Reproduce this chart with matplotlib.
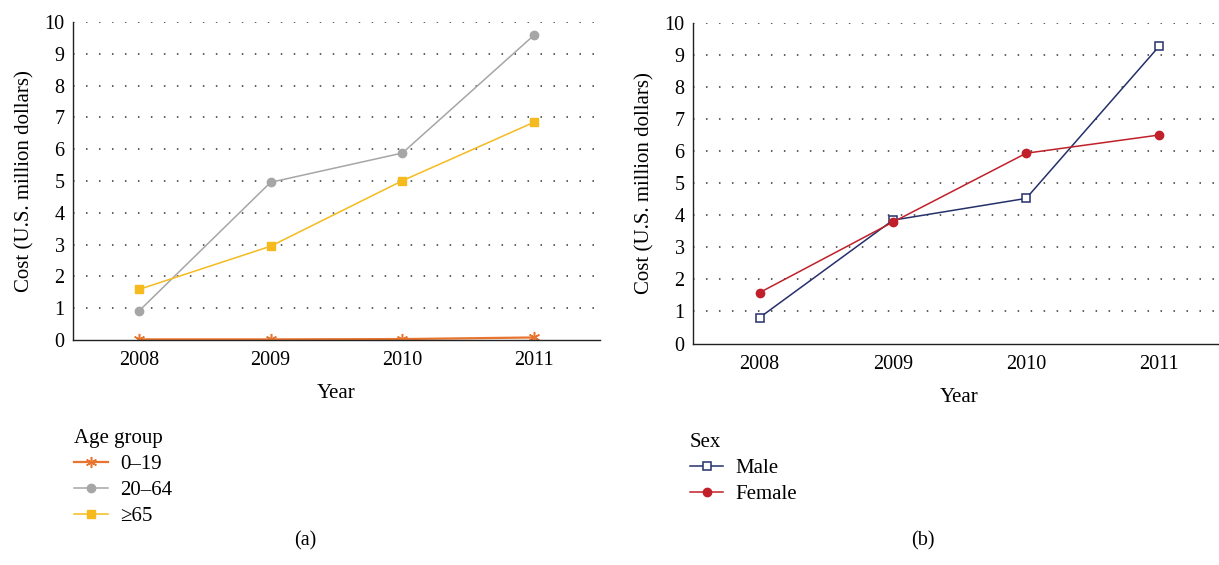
import matplotlib
matplotlib.use("Agg")
import matplotlib.pyplot as plt

# Annual cost data, 2008-2011 (U.S. million dollars)
years = [2008, 2009, 2010, 2011]

age_labels = ["0\u201319", "20\u201364", "\u226565"]
age_0_19 = [0.02, 0.02, 0.03, 0.08]
age_20_64 = [0.91, 4.96, 5.88, 9.59]
age_65_plus = [1.59, 2.95, 5.01, 6.85]

sex_labels = ["Male", "Female"]
male = [0.81, 3.85, 4.53, 9.29]
female = [1.59, 3.79, 5.94, 6.51]

y_ticks = list(range(0, 11))

plt.rcParams["font.family"] = ["Liberation Serif", "DejaVu Serif"]
plt.rcParams["font.size"] = 14.5

fig = plt.figure(figsize=(12.19, 5.65), dpi=100)

ax_a = fig.add_axes([0.0599, 0.3982, 0.4323, 0.5628])
ax_b = fig.add_axes([0.5685, 0.392, 0.4373, 0.567])


def style_axes(ax):
    ax.set_xlim(2007.5, 2011.5)
    ax.set_ylim(0, 10)
    ax.set_xticks(years)
    ax.set_xticklabels([str(y) for y in years])
    ax.set_yticks(y_ticks)
    ax.spines["top"].set_visible(False)
    ax.spines["right"].set_visible(False)
    for s in ("left", "bottom"):
        ax.spines[s].set_color("#222222")
        ax.spines[s].set_linewidth(1.0)
    ax.tick_params(axis="both", length=0, labelsize=14.5)
    ax.tick_params(axis="y", pad=6)
    ax.tick_params(axis="x", pad=8)
    for v in y_ticks[1:]:
        ax.axhline(v, color="#333333", linewidth=1.1,
                   linestyle=(0, (1, 7.5)), zorder=0)
    ax.set_xlabel("Year", fontsize=15, labelpad=10)
    ax.set_ylabel("Cost (U.S. million dollars)", fontsize=15, labelpad=7)


style_axes(ax_a)
style_axes(ax_b)

# Panel (a): by age group
h1, = ax_a.plot(years, age_0_19, color="#E8742E", linewidth=1.6,
                marker=(6, 2, 0), markersize=8, markeredgewidth=1.1,
                label=age_labels[0])
h2, = ax_a.plot(years, age_20_64, color="#A6A6A6", linewidth=1.1,
                marker="o", markersize=6, label=age_labels[1])
h3, = ax_a.plot(years, age_65_plus, color="#F5BA1E", linewidth=1.1,
                marker="s", markersize=6, label=age_labels[2])

# Panel (b): by sex
h4, = ax_b.plot(years, male, color="#25306B", linewidth=1.1,
                marker="s", markersize=6, markerfacecolor="white",
                markeredgewidth=1.1, label=sex_labels[0])
h5, = ax_b.plot(years, female, color="#C0202A", linewidth=1.1,
                marker="o", markersize=6, label=sex_labels[1])

leg_kw = dict(frameon=False, fontsize=15, title_fontsize=15,
              handlelength=1.6, handletextpad=0.6, labelspacing=0.3,
              borderpad=0, borderaxespad=0, alignment="left")

fig.legend(handles=[h1, h2, h3], title="Age group", loc="upper left",
           bbox_to_anchor=(0.061, 0.24), **leg_kw)
fig.legend(handles=[h4, h5], title="Sex", loc="upper left",
           bbox_to_anchor=(0.566, 0.233), **leg_kw)

fig.text(0.2502, 0.025, "(a)", ha="center", va="bottom", fontsize=14.5)
fig.text(0.7572, 0.025, "(b)", ha="center", va="bottom", fontsize=14.5)

fig.savefig("out.png", dpi=100, facecolor="white")
